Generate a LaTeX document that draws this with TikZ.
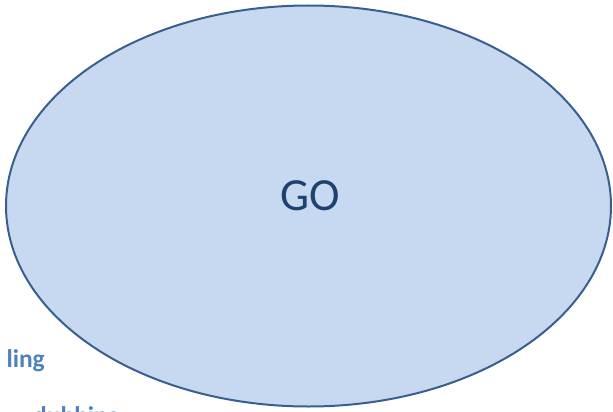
\documentclass[tikz,border=0pt]{standalone}
\usepackage{fontspec}
\setmainfont{Carlito}
\usepackage{tikz}
\usetikzlibrary{shapes.geometric}
\definecolor{gofill}{HTML}{C6D9F0}
\definecolor{goline}{HTML}{3A5F8F}
\definecolor{gotext}{HTML}{1F4170}
\definecolor{sidetext}{HTML}{4F81BD}

\begin{document}
\begin{tikzpicture}[x=1pt,y=-1pt,side/.style={text=sidetext,inner sep=0pt,font=\fontsize{25.5}{30}\selectfont\bfseries}]
\useasboundingbox (0,0) rectangle (613,412);
\clip (0,0) rectangle (613,412);
\node[ellipse,draw=goline,line width=2pt,fill=gofill,minimum width=605pt,minimum height=401pt,inner sep=0pt] (go) at (308.5,206) {};
\node[text=gotext,inner sep=0pt,font=\fontsize{46}{50}\selectfont] (golabel) at (310,196) {GO};
\node[side,anchor=base east] (ling) at (45,367) {ling};
\node[side,anchor=base west] (dubbing) at (33,424) {dubbing};
\end{tikzpicture}
\end{document}
